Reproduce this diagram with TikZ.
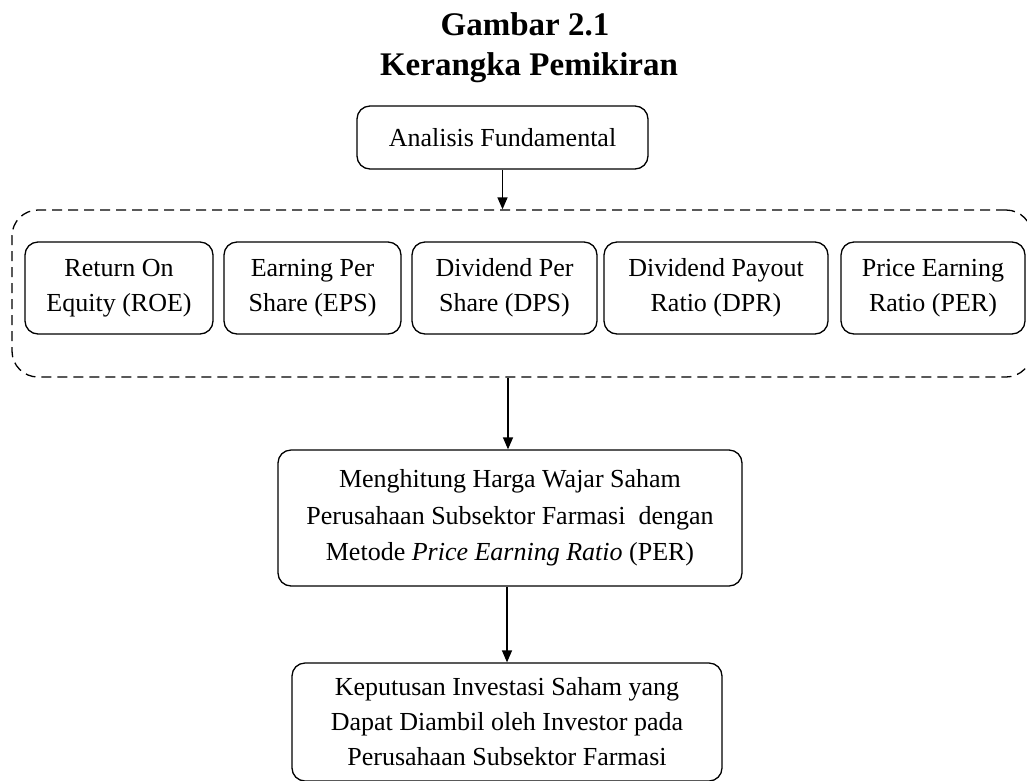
\documentclass[tikz,border=0pt]{standalone}
\usepackage{fontspec}
\setmainfont{Liberation Serif}
\usepackage{tikz}
\usetikzlibrary{arrows.meta,positioning,calc}

\begin{document}
\begin{tikzpicture}[
    x=1pt, y=-1pt,
    font=\fontsize{26}{35}\selectfont,
    arrow/.style={-{Triangle[length=12pt,width=10pt]}, line width=1.3pt},
    box/.style={draw, rounded corners=13pt, line width=1.3pt, align=center,
                inner sep=0pt, fill=white},
    ratio/.style={box, minimum height=92},
    group/.style={draw, dashed, dash pattern=on 10pt off 6pt, line width=1.3pt,
                  rounded corners=26pt, inner sep=0pt},
    heading/.style={font=\fontsize{33}{40}\selectfont\bfseries, anchor=base},
]
\useasboundingbox (0,0) rectangle (1027,780);
\clip (0,0) rectangle (1027,780);

%% ── title ──────────────────────────────────────────────────
\node[heading] (ttl)    at (525,35) {Gambar 2.1};
\node[heading] (subttl) at (529,75) {Kerangka Pemikiran};

%% ── analysis ───────────────────────────────────────────────
\node[box, minimum width=291, minimum height=63] (ana) at (502.5,137.5)
  {Analisis Fundamental};

%% ── ratios ─────────────────────────────────────────────────
\node[group, minimum width=1020, minimum height=167] (grp) at (522,293.5) {};

\node[ratio, minimum width=188] (roe) at (119,288)   {Return On\\Equity (ROE)};
\node[ratio, minimum width=177] (eps) at (312.5,288) {Earning Per\\Share (EPS)};
\node[ratio, minimum width=185] (dps) at (504.5,288) {Dividend Per\\Share (DPS)};
\node[ratio, minimum width=224] (dpr) at (716,288)   {Dividend Payout\\Ratio (DPR)};
\node[ratio, minimum width=184] (per) at (933,288)   {Price Earning\\Ratio (PER)};

%% ── valuation and decision ─────────────────────────────────
\node[box, minimum width=464, minimum height=136,
      font=\fontsize{26}{36.5}\selectfont] (hitung) at (510,518)
  {Menghitung Harga Wajar Saham\\
   Perusahaan Subsektor Farmasi\ \ dengan\\
   Metode \textit{Price Earning Ratio} (PER)};
\node[box, minimum width=430, minimum height=118,
      font=\fontsize{26}{35}\selectfont] (kep) at (507,722)
  {Keputusan Investasi Saham yang\\
   Dapat Diambil oleh Investor pada\\
   Perusahaan Subsektor Farmasi};

\draw[arrow] (ana.south) -- (ana.south |- grp.north);
\draw[arrow] ($(hitung.north |- grp.south)+(-2,0)$) -- ($(hitung.north)+(-2,0)$);
\draw[arrow] (kep.north |- hitung.south) -- (kep.north);

\end{tikzpicture}
\end{document}
